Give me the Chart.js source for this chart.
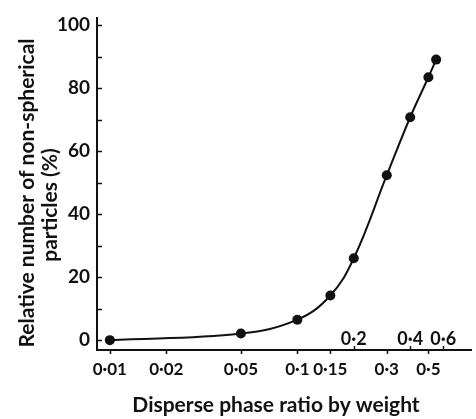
<!DOCTYPE html>
<html>
<head>
<meta charset="utf-8">
<script src="https://cdn.jsdelivr.net/npm/chart.js@4"></script>
<style>
  html, body { margin: 0; padding: 0; background: #fff; }
</style>
</head>
<body>
<canvas id="chart" width="476" height="419"></canvas>
<script>
// --- data ---
const ratios = [0.01, 0.05, 0.1, 0.15, 0.2, 0.3, 0.4, 0.5, 0.55];
const percents = [0, 2.1, 6.5, 14.2, 26, 52.4, 70.8, 83.5, 89.1];

const xTicksBelow = [0.01, 0.02, 0.05, 0.1, 0.15, 0.3, 0.5];
const xTicksAbove = [0.2, 0.4, 0.6];
const yTicks = [0, 10, 20, 30, 40, 50, 60, 70, 80, 90, 100];
const yLabelled = [0, 20, 40, 60, 80, 100];

const xTitle = 'Disperse phase ratio by weight';
const yTitle = ['Relative number of non-spherical', 'particles (%)'];

const FONT = 'Lato';
const INK = '#111';

const fmt = v => String(v).replace('.', '\u00b7');

// tick marks, the labels above the x axis and the axis titles
const decor = {
    id: 'decor',
    afterDraw(chart) {
        const { ctx, scales: { x, y }, chartArea: a } = chart;
        ctx.save();
        ctx.strokeStyle = INK;
        ctx.lineWidth = 1.5;
        ctx.beginPath();
        yTicks.forEach(v => {
            const py = Math.round(y.getPixelForValue(v)) + 0.5;
            ctx.moveTo(a.left, py);
            ctx.lineTo(a.left + 5, py);
        });
        xTicksBelow.forEach(v => {
            const px = Math.round(x.getPixelForValue(v)) + 0.5;
            ctx.moveTo(px, a.bottom);
            ctx.lineTo(px, a.bottom + 4);
        });
        xTicksAbove.forEach(v => {
            const px = Math.round(x.getPixelForValue(v)) + 0.5;
            ctx.moveTo(px, a.bottom);
            ctx.lineTo(px, a.bottom - 4);
        });
        ctx.stroke();

        ctx.fillStyle = INK;
        ctx.font = `bold 18px ${FONT}`;
        ctx.textAlign = 'center';
        ctx.textBaseline = 'alphabetic';
        xTicksAbove.forEach(v => {
            ctx.fillText(fmt(v), x.getPixelForValue(v), a.bottom - 5);
        });

        ctx.font = `bold 21px ${FONT}`;
        ctx.textBaseline = 'middle';
        ctx.fillText(xTitle, 276, 405);

        yTitle.forEach((line, i) => {
            ctx.save();
            ctx.translate(27 + i * 23, 193 + i * 12);
            ctx.rotate(-Math.PI / 2);
            ctx.fillText(line, 0, 0);
            ctx.restore();
        });
        ctx.restore();
    }
};

new Chart(document.getElementById('chart'), {
    type: 'line',
    data: {
        datasets: [{
            data: ratios.map((r, i) => ({ x: r, y: percents[i] })),
            borderColor: INK,
            borderWidth: 2,
            backgroundColor: INK,
            pointRadius: 5,
            pointBorderWidth: 0,
            tension: 0.4,
            fill: false
        }]
    },
    options: {
        responsive: false,
        animation: false,
        layout: { padding: { top: 13, right: 0, left: 0, bottom: 0 } },
        plugins: { legend: { display: false }, tooltip: { enabled: false } },
        scales: {
            x: {
                type: 'logarithmic',
                min: 0.00854,
                max: 0.844,
                grid: { display: false, drawTicks: false },
                border: { display: true, color: INK, width: 2 },
                afterBuildTicks: s => { s.ticks = xTicksBelow.map(v => ({ value: v })); },
                afterFit: s => { s.height = 69; },
                ticks: {
                    autoSkip: false,
                    maxRotation: 0,
                    padding: 9,
                    color: INK,
                    font: { family: FONT, size: 17, weight: 'bold' },
                    callback: v => fmt(v)
                }
            },
            y: {
                min: -3.125,
                max: 102.19,
                grid: { display: false, drawTicks: false },
                border: { display: true, color: INK, width: 2 },
                afterBuildTicks: s => { s.ticks = yTicks.map(v => ({ value: v })); },
                afterFit: s => { s.width = 97; },
                ticks: {
                    autoSkip: false,
                    padding: 7,
                    color: INK,
                    font: { family: FONT, size: 19, weight: 'bold' },
                    callback: v => yLabelled.includes(v) ? String(v) : ''
                }
            }
        }
    },
    plugins: [decor]
});
</script>
</body>
</html>
